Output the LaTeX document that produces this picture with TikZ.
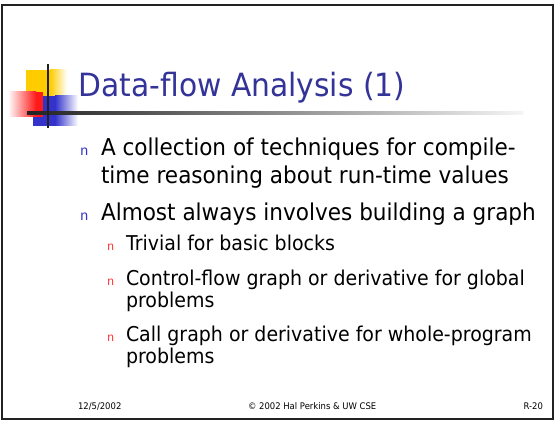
\documentclass[tikz,border=0pt]{standalone}
\usepackage{fontspec}
\setmainfont{DejaVu Sans}[FakeStretch=0.93]
\newfontfamily\bulletfont{Liberation Mono}

\definecolor{titleblue}{HTML}{333399}
\definecolor{bulletblue}{HTML}{3333CC}
\definecolor{bulletred}{HTML}{FF3333}
\definecolor{decoyellow}{HTML}{FFCC00}
\definecolor{decored}{HTML}{FF1A1A}
\definecolor{decoblue}{HTML}{3333CC}
\definecolor{rulegray}{HTML}{222222}

\tikzset{
  txt/.style={inner sep=0pt, outer sep=0pt, anchor=base west},
  slidetitle/.style={txt, text=titleblue, font=\fontsize{32}{38}\selectfont},
  levelone/.style={txt, font=\fontsize{23.2}{27}\selectfont},
  leveltwo/.style={txt, font=\fontsize{20.4}{23}\selectfont},
  bulletone/.style={txt, text=bulletblue, font=\bulletfont\fontsize{14}{14}\selectfont},
  bullettwo/.style={txt, text=bulletred, font=\bulletfont\fontsize{12}{12}\selectfont},
  footer/.style={txt, font=\fontsize{9.1}{11}\selectfont},
}

\begin{document}
\begin{tikzpicture}[x=1pt,y=-1pt]
\useasboundingbox (0,0) rectangle (556,422);
\fill[white] (0,0) rectangle (556,422);

% slide frame
\draw[line width=2.5pt, rulegray] (2,5) rectangle (553,419);

% title ornament: blended squares crossed by two rules
\fill[decoyellow] (26,70) rectangle (50,97);
\shade[left color=decoyellow, right color=white] (50,70) rectangle (67,97);
\fill[decoblue] (33,96) rectangle (55,126);
\shade[left color=decoblue, right color=white] (55,96) rectangle (78,126);
\shade[left color=white, right color=decored] (8,92) rectangle (36,117);
\fill[decored] (36,92) rectangle (43,117);
\shade[left color=rulegray, right color=black!4] (27,111.6) rectangle (523,114.4);
\draw[line width=2pt, rulegray] (48,64) -- (48,128);

% title
\node[slidetitle] (title) at (78.5,96.7) {Data-flow Analysis (1)};

% first-level points
\node[bulletone] (b1) at (80,155.7) {n};
\node[levelone] (p1a) at (101,155.7) {A collection of techniques for compile-};
\node[levelone] (p1b) at (101,183) {time reasoning about run-time values};
\node[bulletone] (b2) at (80,220) {n};
\node[levelone] (p2) at (101,220) {Almost always involves building a graph};

% second-level points
\node[bullettwo] (s1) at (107,250.7) {n};
\node[leveltwo] (q1) at (126,250.7) {Trivial for basic blocks};
\node[bullettwo] (s2) at (107,285) {n};
\node[leveltwo] (q2a) at (126,285) {Control-flow graph or derivative for global};
\node[leveltwo] (q2b) at (126,307.7) {problems};
\node[bullettwo] (s3) at (107,341) {n};
\node[leveltwo] (q3a) at (126,341) {Call graph or derivative for whole-program};
\node[leveltwo] (q3b) at (126,363.3) {problems};

% footer
\node[footer] (date) at (78,409.3) {12/5/2002};
\node[footer] (copy) at (248,409.3) {© 2002 Hal Perkins \& UW CSE};
\node[footer, anchor=base east] (page) at (543,409.3) {R-20};
\end{tikzpicture}
\end{document}
